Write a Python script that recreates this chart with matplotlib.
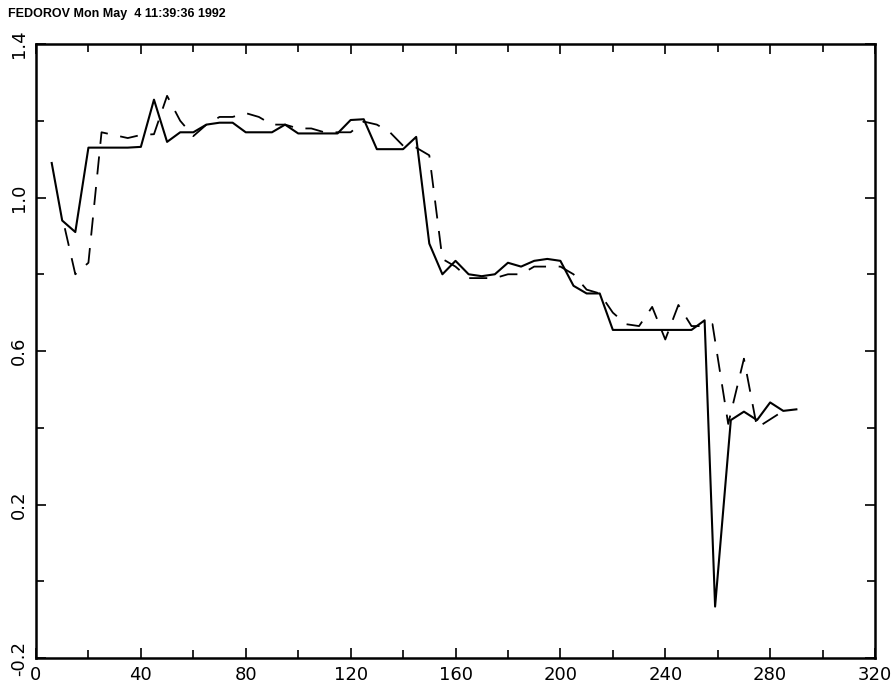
import numpy as np
import matplotlib.pyplot as plt
from matplotlib.ticker import MultipleLocator

# ------------------------------ dados ------------------------------

x_real = [6, 10, 15, 20, 25, 30, 35, 40, 45, 50, 55, 60, 65, 70, 75, 80, 85, 90,
          95, 100, 105, 110, 115, 120, 125, 130, 135, 140, 145, 150, 155, 160,
          165, 170, 175, 180, 185, 190, 195, 200, 205, 210, 215, 220, 225, 230,
          235, 240, 245, 250, 255, 259, 265, 270, 275, 280, 285, 290]
y_real = [1.09, 0.94, 0.91, 1.13, 1.13, 1.13, 1.13, 1.132, 1.255, 1.145, 1.17,
          1.17, 1.19, 1.195, 1.195, 1.17, 1.17, 1.17, 1.19, 1.167, 1.167, 1.167,
          1.167, 1.202, 1.204, 1.126, 1.126, 1.126, 1.158, 0.88, 0.80, 0.835,
          0.80, 0.795, 0.80, 0.83, 0.82, 0.835, 0.84, 0.835, 0.77, 0.75, 0.75,
          0.655, 0.655, 0.655, 0.655, 0.655, 0.655, 0.655, 0.68, -0.066, 0.42,
          0.442, 0.42, 0.466, 0.444, 0.448]

x_prev = [11, 15, 20, 25, 35, 40, 45, 50, 55, 60, 65, 70, 75, 80, 85, 90, 95,
          100, 105, 110, 115, 120, 125, 130, 135, 140, 145, 150, 155, 160, 165,
          170, 175, 180, 185, 190, 195, 200, 205, 210, 215, 220, 225, 230, 235,
          240, 245, 250, 255, 258, 264, 270, 275, 283]
y_prev = [0.92, 0.80, 0.83, 1.17, 1.155, 1.163, 1.165, 1.265, 1.20, 1.16, 1.19,
          1.21, 1.21, 1.22, 1.21, 1.19, 1.19, 1.18, 1.18, 1.17, 1.17, 1.17,
          1.198, 1.19, 1.17, 1.135, 1.13, 1.11, 0.84, 0.82, 0.79, 0.79, 0.79,
          0.80, 0.80, 0.82, 0.82, 0.82, 0.80, 0.76, 0.75, 0.70, 0.67, 0.665,
          0.715, 0.63, 0.72, 0.665, 0.665, 0.67, 0.41, 0.58, 0.40, 0.435]

titulo = "FEDOROV Mon May  4 11:39:36 1992"
xticks = [0, 40, 80, 120, 160, 200, 240, 280, 320]
yticks = [-0.2, 0.2, 0.6, 1.0, 1.4]

# ------------------------------------ grafico ---------------------------------------

fig = plt.figure(figsize=(8.95, 6.88), dpi=100)
ax = fig.add_axes([0.0402, 0.0436, 0.9375, 0.8924])

ax.plot(x_real, y_real, color='black', lw=1.5)
ax.plot(x_prev, y_prev, color='black', lw=1.3, linestyle=(0, (10, 7)))

ax.set_xlim(0, 320)
ax.set_ylim(-0.2, 1.4)
ax.set_xticks(xticks)
ax.set_yticks(yticks)
ax.set_yticklabels([f"{v:.1f}" for v in yticks], rotation=90, va='center')
ax.xaxis.set_minor_locator(MultipleLocator(20))
ax.yaxis.set_minor_locator(MultipleLocator(0.2))
ax.tick_params(which='both', direction='in', top=True, right=True,
               labelsize=13, width=1.2)
ax.tick_params(which='major', length=7, pad=6)
ax.tick_params(which='minor', length=6)
for s in ax.spines.values():
    s.set_linewidth(1.8)

fig.text(0.009, 0.988, titulo, fontsize=9, fontweight='bold',
         family=['Liberation Sans', 'DejaVu Sans'], va='top', ha='left')

fig.savefig("out.png", dpi=100)
